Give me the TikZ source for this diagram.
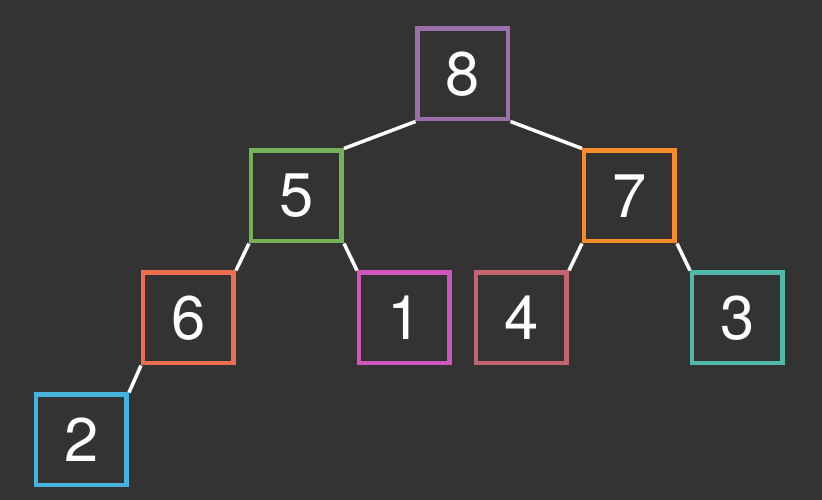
\documentclass[tikz,border=0pt]{standalone}
\usepackage{fontspec}
\setmainfont{TeX Gyre Heros}
\usepackage{xcolor}
\usetikzlibrary{backgrounds, positioning}

\definecolor{bgdark}{RGB}{51,51,51}
\definecolor{purplebox}{RGB}{155,112,170}
\definecolor{greenbox}{RGB}{118,176,88}
\definecolor{orangebox}{RGB}{247,140,40}
\definecolor{redbox}{RGB}{240,110,80}
\definecolor{magentabox}{RGB}{210,85,190}
\definecolor{rosebox}{RGB}{195,100,110}
\definecolor{tealbox}{RGB}{80,185,170}
\definecolor{bluebox}{RGB}{70,180,220}

\begin{document}
\begin{tikzpicture}[
            level distance=24.4mm,
            every node/.style={draw, line width=0.09cm, rectangle, inner sep=0pt,
              minimum size=1.81cm, text=white, font=\fontsize{35}{40}\selectfont},
            edge from parent/.style={draw, white, line width=0.07cm},
            lft/.style={edge from parent path={(\tikzparentnode.south west) -- (\tikzchildnode.north east)}},
            rgt/.style={edge from parent path={(\tikzparentnode.south east) -- (\tikzchildnode.north west)}},
            level 1/.style={sibling distance=66.6mm},
            level 2/.style={sibling distance=43.2mm},
            level 3/.style={sibling distance=42.8mm}
          ]
            \fill[bgdark] (-9.26,1.48) rectangle (7.18,-8.52);
            \node[draw=purplebox] (n8) {8}
              child[lft] { node[draw=greenbox] (n5) {5}
                  child[lft] { node[draw=redbox] (n6) {6}
                      child[lft] { node[draw=bluebox] (n2) {2} }
                      child[missing]
                  }
                  child[rgt] { node[draw=magentabox] (n1) {1} }
              }
              child[rgt] { node[draw=orangebox] (n7) {7}
                  child[lft] { node[draw=rosebox] (n4) {4} }
                  child[rgt] { node[draw=tealbox] (n3) {3} }
              };
          \end{tikzpicture}
\end{document}
